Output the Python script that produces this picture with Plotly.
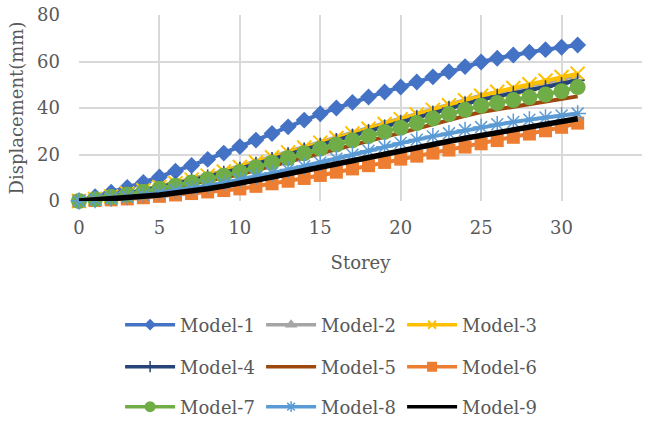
import plotly.graph_objects as go

storey = list(range(0, 32))

model_1 = [0, 1.8, 3.8, 5.8, 8.0, 10.3, 12.8, 15.3, 17.9, 20.6, 23.4, 26.2, 29.0, 31.9, 34.8, 37.5,
           40.0, 42.4, 44.7, 46.9, 49.0, 51.2, 53.4, 55.6, 57.8, 59.8, 61.4, 62.8, 64.0, 65.1, 66.1, 67.1]
model_2 = [0, 1.0, 2.1, 3.4, 4.8, 6.3, 7.9, 9.5, 11.2, 13.0, 14.9, 17.0, 19.1, 21.2, 23.3, 25.4,
           27.4, 29.4, 31.4, 33.4, 35.5, 37.5, 39.5, 41.5, 43.5, 45.4, 46.8, 48.2, 49.6, 51.0, 52.4, 53.8]
model_3 = [0, 0.9, 2.0, 3.2, 4.6, 6.0, 7.6, 9.2, 10.9, 12.7, 14.6, 16.7, 18.8, 20.9, 23.0, 25.1,
           27.1, 29.1, 31.1, 33.1, 35.2, 37.2, 39.2, 41.2, 43.3, 45.3, 47.0, 48.6, 50.2, 51.8, 53.3, 54.8]
model_4 = [0, 0.9, 1.9, 3.2, 4.5, 5.9, 7.4, 8.9, 10.5, 12.2, 13.9, 16.0, 18.1, 20.1, 22.2, 24.2,
           26.2, 28.1, 30.0, 31.9, 33.9, 35.9, 37.9, 39.9, 41.8, 43.6, 45.0, 46.3, 47.6, 48.9, 50.3, 51.9]
model_5 = [0, 0.7, 1.5, 2.5, 3.6, 4.8, 6.0, 7.3, 8.6, 10.0, 11.5, 13.3, 15.1, 17.0, 18.9, 20.8,
           22.5, 24.2, 25.9, 27.6, 29.3, 31.2, 33.1, 34.9, 36.6, 38.3, 39.4, 40.6, 41.8, 43.0, 44.0, 45.0]
model_6 = [0, 0.2, 0.5, 0.9, 1.4, 2.0, 2.6, 3.2, 3.9, 4.5, 5.2, 6.3, 7.4, 8.5, 9.7, 11.0,
           12.4, 13.8, 15.2, 16.6, 18.0, 19.3, 20.6, 21.9, 23.2, 24.6, 26.0, 27.4, 28.8, 30.2, 31.7, 33.5]
model_7 = [0, 0.8, 1.7, 2.8, 4.0, 5.3, 6.6, 8.0, 9.4, 10.9, 12.5, 14.5, 16.5, 18.5, 20.5, 22.5,
           24.3, 26.1, 27.9, 29.7, 31.5, 33.5, 35.5, 37.4, 39.2, 41.0, 42.2, 43.4, 44.6, 45.8, 47.2, 49.0]
model_8 = [0, 0.5, 1.1, 1.8, 2.6, 3.5, 4.5, 5.5, 6.6, 7.8, 9.1, 10.5, 12.0, 13.5, 15.0, 16.5,
           18.2, 19.9, 21.6, 23.3, 25.0, 26.4, 27.8, 29.1, 30.5, 31.8, 33.0, 34.0, 35.0, 35.9, 36.8, 37.6]
model_9 = [0, 0.4, 0.9, 1.4, 2.0, 2.6, 3.4, 4.3, 5.3, 6.4, 7.5, 8.9, 10.3, 11.7, 13.1, 14.5,
           16.0, 17.5, 19.0, 20.5, 22.0, 23.3, 24.5, 25.7, 27.0, 28.2, 29.4, 30.6, 31.8, 33.0, 34.2, 35.4]

x_ticks = [0, 5, 10, 15, 20, 25, 30, 35]
y_ticks = [0, 20, 40, 60, 80]

# name, values, colour, plot marker, legend marker, legend id, line width
series = [
    ("Model-1", model_1, "#4472C4", dict(symbol="diamond", size=13), dict(symbol="diamond", size=9), "legend", 4),
    ("Model-2", model_2, "#A5A5A5", dict(symbol="triangle-up", size=9), dict(symbol="triangle-up", size=11), "legend", 4),
    ("Model-3", model_3, "#FFC000",
     dict(symbol="x-thin-open", size=14, line=dict(width=2, color="#FFC000")),
     dict(symbol="x-thin-open", size=8, line=dict(width=2, color="#FFC000")), "legend", 4),
    ("Model-4", model_4, "#264478",
     dict(symbol="cross-thin-open", size=10, line=dict(width=1.5, color="#264478")),
     dict(symbol="cross-thin-open", size=8, line=dict(width=1.5, color="#264478")), "legend2", 4),
    ("Model-5", model_5, "#9E480E", None, None, "legend2", 4),
    ("Model-6", model_6, "#ED7D31", dict(symbol="square", size=13), dict(symbol="square", size=10), "legend2", 4),
    ("Model-7", model_7, "#70AD47", dict(symbol="circle", size=16), dict(symbol="circle", size=11), "legend3", 4),
    ("Model-8", model_8, "#5B9BD5",
     dict(symbol="asterisk-open", size=14, line=dict(width=1.5, color="#5B9BD5")),
     dict(symbol="asterisk-open", size=9, line=dict(width=1.5, color="#5B9BD5")), "legend3", 4),
    ("Model-9", model_9, "#000000", None, None, "legend3", 5.5),
]

fig = go.Figure()
for name, vals, color, mk, lmk, lg, lw in series:
    if mk is None:
        fig.add_trace(go.Scatter(x=storey, y=vals, name=name, mode="lines", showlegend=False,
                                 line=dict(color=color, width=lw), cliponaxis=False))
    else:
        m = dict(color=color)
        m.update(mk)
        fig.add_trace(go.Scatter(x=storey, y=vals, name=name, mode="lines+markers", showlegend=False,
                                 line=dict(color=color, width=lw), marker=m, cliponaxis=False))

# legend keys (smaller markers, as in the original legend)
for name, vals, color, mk, lmk, lg, lw in series:
    if lmk is None:
        fig.add_trace(go.Scatter(x=[None], y=[None], name=name, mode="lines", legend=lg,
                                 line=dict(color=color, width=3.5)))
    else:
        m = dict(color=color)
        m.update(lmk)
        fig.add_trace(go.Scatter(x=[None], y=[None], name=name, mode="lines+markers", legend=lg,
                                 line=dict(color=color, width=3.5), marker=m))

font_family = "DejaVu Serif"
txt = "#595959"

def leg(yc):
    return dict(orientation="h", x=0.073, xanchor="left", y=yc, yanchor="middle",
                font=dict(family=font_family, size=18, color=txt),
                entrywidth=76, entrywidthmode="pixels", itemwidth=50, itemsizing="trace",
                bgcolor="rgba(0,0,0,0)", traceorder="normal")

def py(p):
    return (201 - p) / 186.0

fig.update_layout(
    width=651, height=427,
    margin=dict(l=79, r=9, t=15, b=226, autoexpand=False),
    paper_bgcolor="white", plot_bgcolor="white",
    font=dict(family=font_family, size=18, color=txt),
    legend=leg(py(325)),
    legend2=leg(py(367)),
    legend3=leg(py(407)),
    xaxis=dict(range=[0, 35], tickvals=x_ticks, showgrid=True, gridcolor="#D9D9D9", gridwidth=1.5,
               zeroline=False, showline=False, ticks="", ticklabelstandoff=14,
               title=dict(text="Storey", standoff=19, font=dict(size=18, color=txt)),
               tickfont=dict(size=18, color=txt)),
    yaxis=dict(range=[0, 80], tickvals=y_ticks, showgrid=True, gridcolor="#D9D9D9", gridwidth=1.5,
               zeroline=False, showline=False, ticks="", ticklabelstandoff=18,
               title=dict(text="Displacement(mm)", standoff=8, font=dict(size=18, color=txt)),
               tickfont=dict(size=18, color=txt)),
)

fig.write_html("out.html")
